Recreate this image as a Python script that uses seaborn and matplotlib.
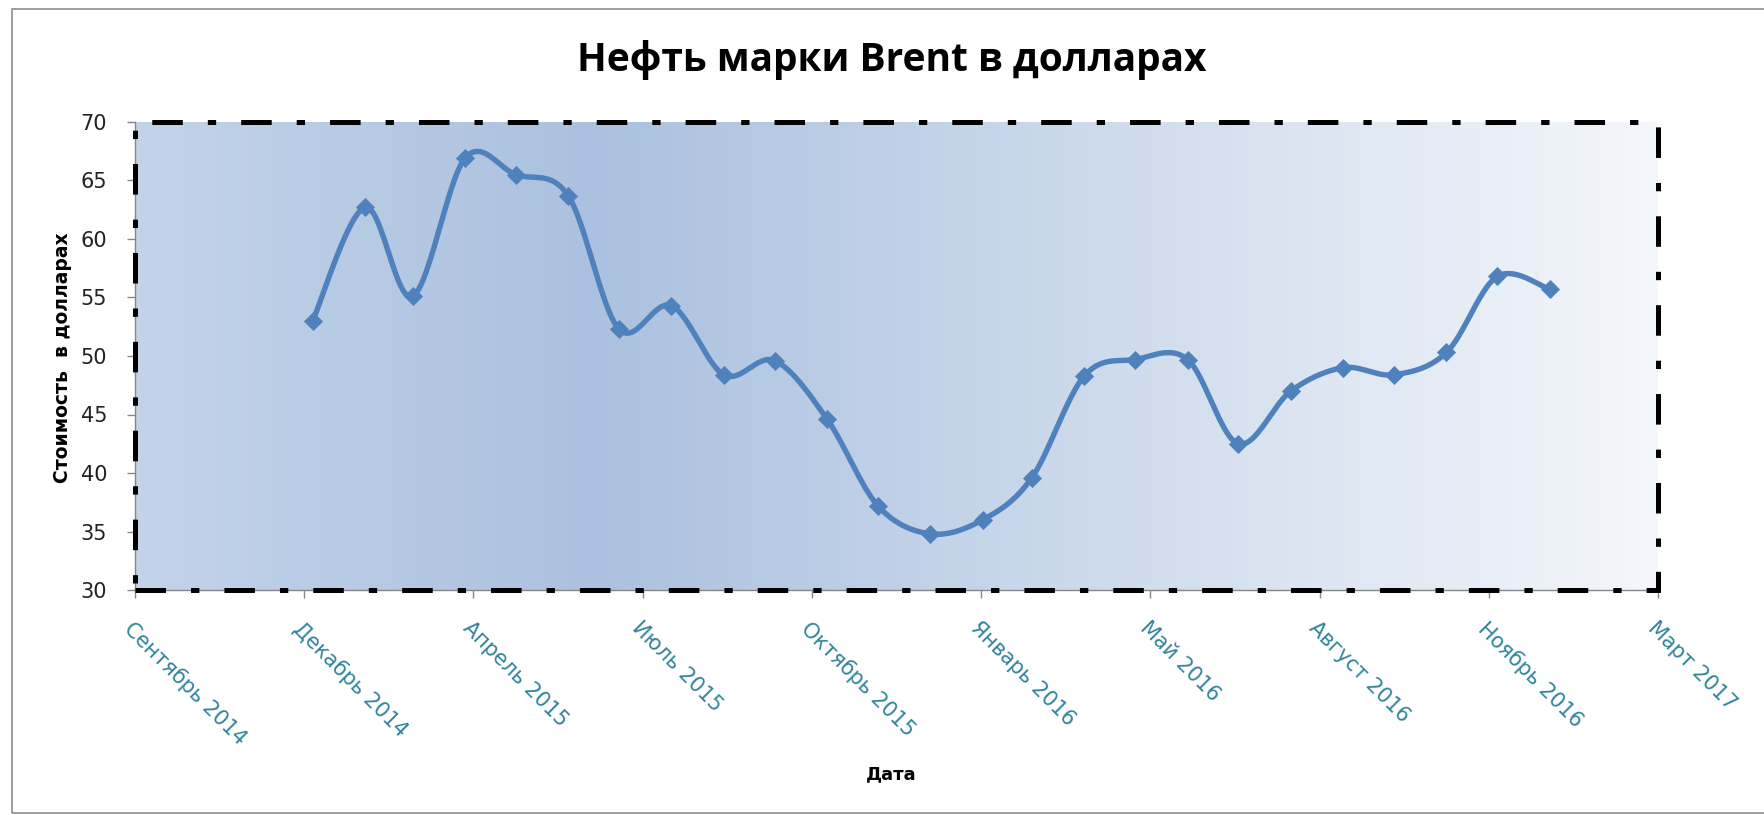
import numpy as np
import pandas as pd
import matplotlib
matplotlib.use("Agg")
import matplotlib.pyplot as plt
import matplotlib.dates as mdates
from matplotlib.colors import LinearSegmentedColormap
from matplotlib.patches import Rectangle
import seaborn as sns

# Monthly Brent prices (Jan 2015 .. Jan 2017)
months = pd.date_range("2015-01-01", "2017-01-01", freq="MS")
prices = [53.0, 62.7, 55.1, 66.9, 65.5, 63.7, 52.3, 54.3, 48.4, 49.6,
          44.6, 37.2, 34.8, 36.0, 39.6, 48.3, 49.7, 49.7, 42.5, 47.0,
          49.0, 48.4, 50.3, 56.8, 55.7]

# Excel date axis: min 41900, major unit 100 days
tick_dates = pd.to_datetime(["2014-09-18", "2014-12-27", "2015-04-06", "2015-07-15",
                             "2015-10-23", "2016-01-31", "2016-05-10", "2016-08-18",
                             "2016-11-26", "2017-03-06"])
tick_labels = ["Сентябрь 2014", "Декабрь 2014", "Апрель 2015", "Июль 2015",
               "Октябрь 2015", "Январь 2016", "Май 2016", "Август 2016",
               "Ноябрь 2016", "Март 2017"]
y_ticks = [30, 35, 40, 45, 50, 55, 60, 65, 70]

sns.set_theme(style="white")
plt.rcParams["font.family"] = ["DejaVu Sans"]
plt.rcParams["lines.scale_dashes"] = False

W, H = 1764, 815
fig = plt.figure(figsize=(W / 100, H / 100), dpi=100)
L, R, T, B = 135, 1658, 122, 590
ax = fig.add_axes([L / W, 1 - B / H, (R - L) / W, (B - T) / H])

xnum = mdates.date2num(months)
tnum = mdates.date2num(tick_dates)
x0, x1 = tnum[0], tnum[-1]
y0, y1 = 30, 70
ax.set_xlim(x0, x1)
ax.set_ylim(y0, y1)

# gradient background of the plot area
cmap = LinearSegmentedColormap.from_list(
    "plotarea", [(0.0, "#c3d3e9"), (0.3, "#abc1df"), (1.0, "#f4f7fb")])
ax.imshow(np.linspace(0, 1, 256).reshape(1, -1), cmap=cmap, aspect="auto",
          extent=[0, 1, 0, 1], transform=ax.transAxes, zorder=0)

# Excel-like smoothed line (Bezier through the points, computed in pixel space)
sx = (R - L) / (x1 - x0)
sy = (B - T) / (y1 - y0)
px = (xnum - x0) * sx
py = (np.array(prices) - y0) * sy
pts = np.column_stack([px, py])
ext = np.vstack([pts[0], pts, pts[-1]])
curve = []
tt = np.linspace(0, 1, 30)
for i in range(len(pts) - 1):
    p0, p1, p2, p3 = ext[i], ext[i + 1], ext[i + 2], ext[i + 3]
    c1 = p1 + (p2 - p0) / 6
    c2 = p2 - (p3 - p1) / 6
    seg = ((1 - tt) ** 3)[:, None] * p1 + (3 * (1 - tt) ** 2 * tt)[:, None] * c1 \
        + (3 * (1 - tt) * tt ** 2)[:, None] * c2 + (tt ** 3)[:, None] * p2
    curve.append(seg)
curve = np.vstack(curve)
smooth = pd.DataFrame({"x": curve[:, 0] / sx + x0, "y": curve[:, 1] / sy + y0})

sns.lineplot(data=smooth, x="x", y="y", sort=False, estimator=None, ax=ax,
             color="#4f81bd", linewidth=3.9, zorder=3)
sns.scatterplot(x=xnum, y=prices, marker="D", s=95, color="#4f81bd",
                edgecolor="#4f81bd", linewidth=0, ax=ax, zorder=4)

# axes
for side in ["top", "right"]:
    ax.spines[side].set_visible(False)
for side in ["left", "bottom"]:
    ax.spines[side].set_color("#868686")
    ax.spines[side].set_linewidth(1.0)
    ax.spines[side].set_zorder(2)

ax.set_yticks(y_ticks)
ax.set_yticklabels([str(v) for v in y_ticks], fontsize=15, color="#222222")
ax.set_xticks(tnum)
ax.set_xticklabels(tick_labels, rotation=-45, ha="left", va="top",
                   rotation_mode="anchor", fontsize=15, color="#31849b")
ax.tick_params(axis="both", which="major", direction="out", length=6, width=1,
               color="#868686", left=True, bottom=True)
ax.tick_params(axis="y", pad=14)
ax.tick_params(axis="x", pad=14)
ax.set_xlabel("")
ax.set_ylabel("")

# dash-dot border of the plot area
border = Rectangle((0, 0), 1, 1, transform=ax.transAxes, fill=False,
                   edgecolor="black", linewidth=3.6,
                   linestyle=(0, (22, 18, 6, 18)), clip_on=False, zorder=5)
ax.add_patch(border)

fig.text(892 / W, 1 - 60 / H, "Нефть марки Brent в долларах", ha="center", va="center",
         fontsize=28, fontweight="bold", family=["Open Sans", "DejaVu Sans"], color="black")
fig.text(63 / W, 1 - 358 / H, "Стоимость  в долларах", rotation=90, ha="center",
         va="center", fontsize=13.5, fontweight="bold", color="black")
fig.text(891 / W, 1 - 774 / H, "Дата", ha="center", va="center",
         fontsize=13, fontweight="bold", color="black")

# chart area frame
fig.patches.append(Rectangle((12 / W, 1 - 813 / H), 1.0, (813 - 9) / H,
                             transform=fig.transFigure, fill=False,
                             edgecolor="#8c8c8c", linewidth=1.2))

fig.savefig("out.png", dpi=100, facecolor="white")
